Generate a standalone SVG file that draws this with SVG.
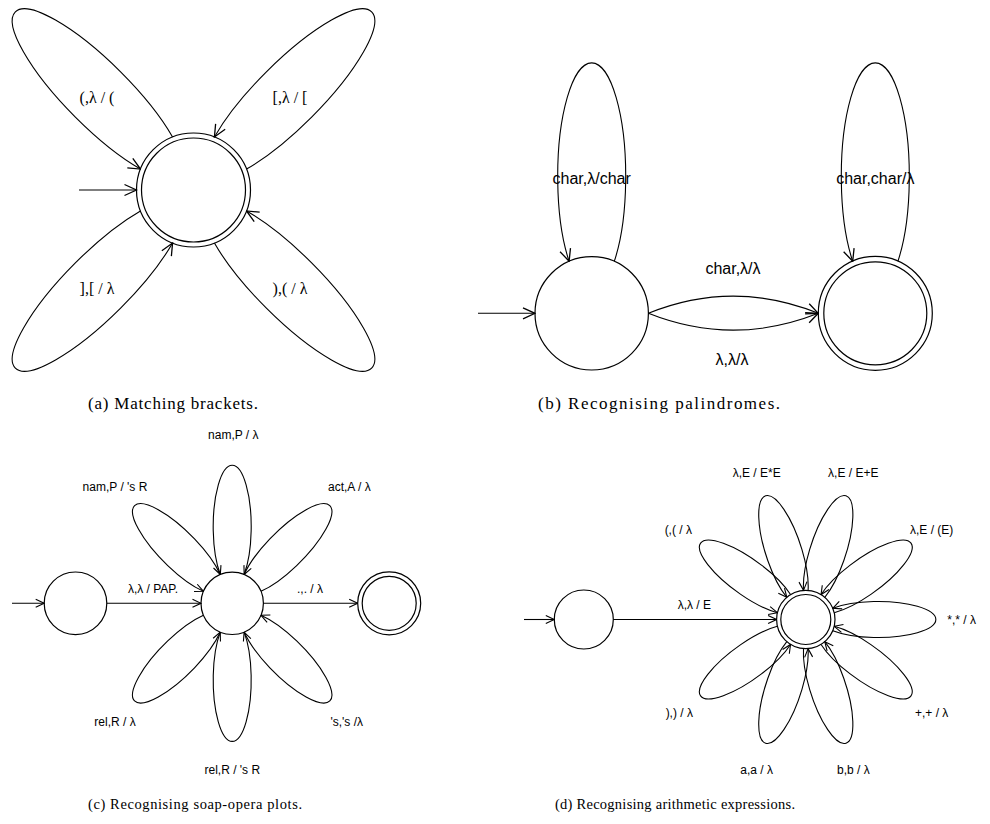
<svg xmlns="http://www.w3.org/2000/svg" width="990" height="824" viewBox="0 0 990 824">
<style>
.st{fill:#fff;stroke:#000;stroke-width:1.2}
.ln{fill:none;stroke:#000;stroke-width:1.1}
.la{marker-end:url(#arrL)}
.sa{marker-end:url(#arrS)}
.ser{font-family:"Liberation Serif","Times New Roman",serif;font-size:16px;fill:#000;text-anchor:middle}
.sb{font-family:"Liberation Sans",Arial,sans-serif;font-size:16px;fill:#000;text-anchor:middle}
.ss{font-family:"Liberation Sans",Arial,sans-serif;font-size:12px;fill:#000;text-anchor:middle}
.cap{font-family:"Liberation Serif","Times New Roman",serif;font-size:17px;fill:#000}
.cap2{font-family:"Liberation Serif","Times New Roman",serif;font-size:14.5px;fill:#000}
</style>
<defs>
<marker id="arrL" viewBox="0 0 14 14" refX="13" refY="7" markerWidth="14" markerHeight="14" markerUnits="userSpaceOnUse" orient="auto">
<path d="M1,1.5 L13,7 L1,12.5" fill="none" stroke="#000" stroke-width="1.3"/>
</marker>
<marker id="arrS" viewBox="0 0 10 10" refX="9.5" refY="5" markerWidth="10" markerHeight="10" markerUnits="userSpaceOnUse" orient="auto">
<path d="M1,1 L9.5,5 L1,9" fill="none" stroke="#000" stroke-width="1.1"/>
</marker>
<path id="petA" d="M52.3,22.7 A117.1,32 0 1 0 52.3,-22.7"/>
<path id="petB" d="M52,22.6 A113.6,34 0 1 0 52,-22.6"/>
<path id="petC" d="M28.8,11.9 A61.4,19 0 1 0 28.8,-11.9"/>
<path id="petD" d="M27,11.2 A57.8,18 0 1 0 27,-11.2"/>
</defs>

<!-- Panel (a) -->
<g id="a-q0">
<circle class="st" cx="193.5" cy="190" r="57"/>
<circle class="st" cx="193.5" cy="190" r="52"/>
</g>

<!-- Panel (b) -->
<g id="b-q0"><circle class="st" cx="591.7" cy="313.3" r="56.7"/></g>
<g id="b-q1">
<circle class="st" cx="875.3" cy="313.3" r="57"/>
<circle class="st" cx="875.3" cy="313.3" r="51.5"/>
</g>

<!-- Panel (c) -->
<g id="c-q0"><circle class="st" cx="75.5" cy="603.3" r="31.3"/></g>
<g id="c-q1"><circle class="st" cx="232.2" cy="603.3" r="31.2"/></g>
<g id="c-q2">
<circle class="st" cx="389.2" cy="603.3" r="31.5"/>
<circle class="st" cx="389.2" cy="603.3" r="27"/>
</g>

<!-- Panel (d) -->
<g id="d-q0"><circle class="st" cx="583.8" cy="619.5" r="29.5"/></g>
<g id="d-q1">
<circle class="st" cx="805.8" cy="619.5" r="29.2"/>
<circle class="st" cx="805.8" cy="619.5" r="25"/>
</g>

<g id="connectors">
<!-- (a) -->
<line class="ln la" x1="79" y1="190" x2="136.5" y2="190"/>
<g transform="translate(193.5,190)">
<use href="#petA" class="ln la" transform="rotate(-135)"/>
<use href="#petA" class="ln la" transform="rotate(-45)"/>
<use href="#petA" class="ln la" transform="rotate(45)"/>
<use href="#petA" class="ln la" transform="rotate(135)"/>
</g>
<text class="ser" x="97" y="103">(,λ / (</text>
<text class="ser" x="290" y="103">[,λ / [</text>
<text class="ser" x="97" y="294">],[ / λ</text>
<text class="ser" x="290" y="294">),( / λ</text>

<!-- (b) -->
<line class="ln la" x1="478" y1="313.3" x2="535" y2="313.3"/>
<use href="#petB" class="ln la" transform="translate(591.7,313.3) rotate(-90)"/>
<use href="#petB" class="ln la" transform="translate(875.3,313.3) rotate(-90)"/>
<path class="ln la" d="M648.4,313.3 Q733,279 818.3,313.3"/>
<path class="ln la" d="M648.4,313.3 Q733,347 818.3,313.3"/>
<text class="sb" x="591.7" y="184">char,λ/char</text>
<text class="sb" x="875.3" y="184">char,char/λ</text>
<text class="sb" x="733" y="274">char,λ/λ</text>
<text class="sb" x="732" y="365">λ,λ/λ</text>

<!-- (c) -->
<line class="ln sa" x1="12" y1="603.3" x2="44.2" y2="603.3"/>
<line class="ln sa" x1="106.8" y1="603.3" x2="201" y2="603.3"/>
<line class="ln sa" x1="263.4" y1="603.3" x2="357.7" y2="603.3"/>
<g transform="translate(232.2,603.3)">
<use href="#petC" class="ln sa" transform="rotate(-135)"/>
<use href="#petC" class="ln sa" transform="rotate(-90)"/>
<use href="#petC" class="ln sa" transform="rotate(-45)"/>
<use href="#petC" class="ln sa" transform="rotate(45)"/>
<use href="#petC" class="ln sa" transform="rotate(90)"/>
<use href="#petC" class="ln sa" transform="rotate(135)"/>
</g>
<text class="ss" x="233.3" y="439">nam,P / λ</text>
<text class="ss" x="115" y="491">nam,P / 's R</text>
<text class="ss" x="349.3" y="491">act,A / λ</text>
<text class="ss" x="153" y="592.5">λ,λ / PAP.</text>
<text class="ss" x="310" y="592.5">.,. / λ</text>
<text class="ss" x="115" y="726">rel,R / λ</text>
<text class="ss" x="346.7" y="726">'s,'s /λ</text>
<text class="ss" x="232.3" y="774">rel,R / 's R</text>

<!-- (d) -->
<line class="ln sa" x1="524" y1="619.5" x2="554.3" y2="619.5"/>
<line class="ln sa" x1="613.3" y1="619.5" x2="776.6" y2="619.5"/>
<g transform="translate(805.8,619.5)">
<use href="#petD" class="ln sa" transform="rotate(-144)"/>
<use href="#petD" class="ln sa" transform="rotate(-108)"/>
<use href="#petD" class="ln sa" transform="rotate(-72)"/>
<use href="#petD" class="ln sa" transform="rotate(-36)"/>
<use href="#petD" class="ln sa" transform="rotate(0)"/>
<use href="#petD" class="ln sa" transform="rotate(36)"/>
<use href="#petD" class="ln sa" transform="rotate(72)"/>
<use href="#petD" class="ln sa" transform="rotate(108)"/>
<use href="#petD" class="ln sa" transform="rotate(144)"/>
</g>
<text class="ss" x="756.7" y="476.5">λ,E / E*E</text>
<text class="ss" x="853.3" y="476.5">λ,E / E+E</text>
<text class="ss" x="678.3" y="533.5">(,( / λ</text>
<text class="ss" x="931.7" y="533.5">λ,E / (E)</text>
<text class="ss" x="694.3" y="609">λ,λ / E</text>
<text class="ss" x="961.7" y="624">*,* / λ</text>
<text class="ss" x="679.3" y="717">),) / λ</text>
<text class="ss" x="931.7" y="717">+,+ / λ</text>
<text class="ss" x="756.7" y="773.5">a,a / λ</text>
<text class="ss" x="853.3" y="773.5">b,b / λ</text>
</g>

<g id="captions">
<text class="cap" x="88" y="409" textLength="170" lengthAdjust="spacing">(a) Matching brackets.</text>
<text class="cap" x="538" y="409" textLength="242" lengthAdjust="spacing">(b) Recognising palindromes.</text>
<text class="cap2" x="88" y="809" textLength="214" lengthAdjust="spacing">(c) Recognising soap-opera plots.</text>
<text class="cap2" x="555" y="809" textLength="240" lengthAdjust="spacing">(d) Recognising arithmetic expressions.</text>
</g>
</svg>
